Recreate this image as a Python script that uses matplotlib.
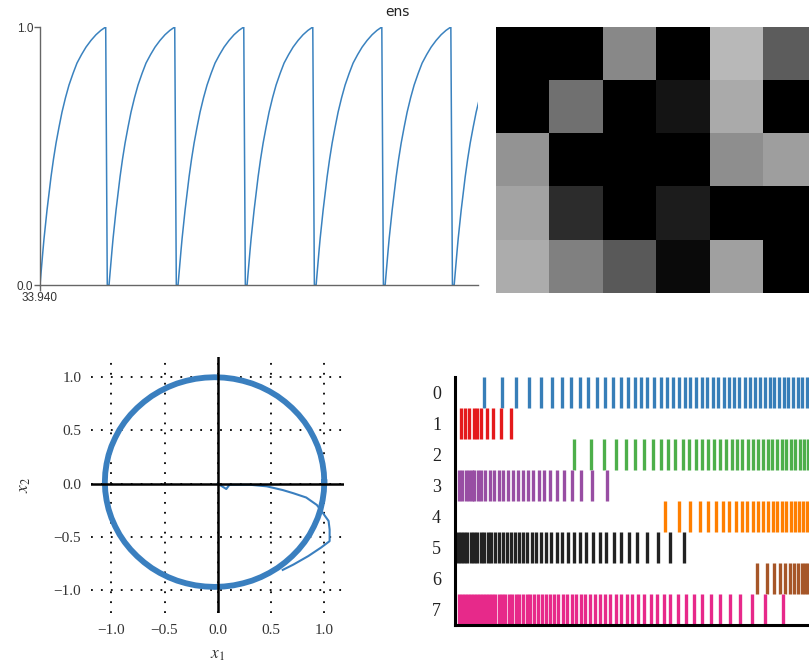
import numpy as np
import matplotlib
matplotlib.use("Agg")
import matplotlib.pyplot as plt
import matplotlib.patheffects as pe

plt.rcParams['mathtext.fontset'] = 'stix'

# --- DATA ---
# panel 1: membrane voltage of "ens", one cycle (s, value)
t_start = 33.940
t_window = 0.5
period = 0.0788
cycle_t = [0.0, 0.0011, 0.0023, 0.0034, 0.0046, 0.0063, 0.0080, 0.0103, 0.0126,
           0.0154, 0.0183, 0.0217, 0.0251, 0.0291, 0.0331, 0.0377, 0.0422,
           0.0474, 0.0525, 0.0582, 0.0639, 0.0695, 0.0750, 0.0768]
cycle_v = [0.0, 0.045, 0.09, 0.135, 0.18, 0.235, 0.29, 0.355, 0.42,
           0.488, 0.55, 0.612, 0.67, 0.726, 0.775, 0.82, 0.86,
           0.893, 0.922, 0.948, 0.97, 0.987, 1.0, 0.0]
n_cycles = 7

# panel 2: grey levels (0-255)
gray_levels = [
    [0, 0, 136, 0, 184, 92],
    [0, 112, 0, 20, 170, 0],
    [148, 0, 0, 0, 142, 158],
    [164, 44, 0, 28, 0, 0],
    [172, 128, 90, 10, 160, 0],
]

# panel 3: oscillator state, limit cycle and start transient
circle_x = [1.00, 0.996, 0.984, 0.965, 0.938, 0.903, 0.862, 0.814, 0.759, 0.698,
            0.632, 0.561, 0.485, 0.405, 0.322, 0.237, 0.149, 0.060, -0.03,
            -0.120, -0.209, -0.297, -0.382, -0.465, -0.545, -0.621, -0.692,
            -0.758, -0.819, -0.874, -0.922, -0.963, -0.998, -1.025, -1.044,
            -1.056, -1.06, -1.056, -1.044, -1.025, -0.998, -0.963, -0.922,
            -0.874, -0.819, -0.758, -0.692, -0.621, -0.545, -0.465, -0.382,
            -0.297, -0.209, -0.120, -0.03, 0.060, 0.149, 0.237, 0.322, 0.405,
            0.485, 0.561, 0.632, 0.698, 0.759, 0.814, 0.862, 0.903, 0.938,
            0.965, 0.984, 0.996, 1.00]
circle_y = [0.015, 0.101, 0.186, 0.270, 0.352, 0.431, 0.508, 0.580, 0.648, 0.711,
            0.769, 0.822, 0.868, 0.908, 0.941, 0.966, 0.985, 0.996, 1.00,
            0.996, 0.985, 0.966, 0.941, 0.908, 0.868, 0.822, 0.769,
            0.711, 0.648, 0.580, 0.508, 0.431, 0.352, 0.270, 0.186,
            0.101, 0.015, -0.071, -0.156, -0.240, -0.322, -0.401, -0.478,
            -0.550, -0.618, -0.681, -0.739, -0.792, -0.838, -0.878, -0.911,
            -0.936, -0.955, -0.966, -0.97, -0.966, -0.955, -0.936, -0.911, -0.878,
            -0.838, -0.792, -0.739, -0.681, -0.618, -0.550, -0.478, -0.401, -0.322,
            -0.240, -0.156, -0.071, 0.015]
trans_x = [0.0, 0.08, 0.11, 0.30, 0.46, 0.61, 0.71, 0.83, 0.93, 0.99, 1.04,
           1.05, 1.05, 0.97, 0.85, 0.71, 0.61]
trans_y = [0.0, -0.05, -0.01, -0.01, -0.025, -0.06, -0.09, -0.13, -0.20, -0.28,
           -0.35, -0.43, -0.54, -0.60, -0.68, -0.76, -0.81]
grid_ticks = [-1.0, -0.5, 0.0, 0.5, 1.0]

# panel 4: spike raster, spike times per neuron
spikes_0 = [29, 47, 61, 74, 86, 97, 107, 116, 125, 133, 142, 150, 158, 166, 173,
            180, 186, 192, 199, 206, 212, 218, 224, 230, 235, 241, 247, 252, 258,
            263, 269, 274, 279, 284, 290, 295, 300, 305, 310, 315, 319, 324, 329,
            333, 338, 343, 347, 352, 357]
spikes_1 = [6, 10, 14, 19, 22, 26, 32, 38, 46, 56]
spikes_2 = [119, 136, 149, 161, 171, 180, 189, 198, 206, 213, 220, 228, 234, 241,
            247, 253, 259, 265, 271, 277, 282, 287, 293, 298, 303, 308, 313, 317,
            322, 327, 331, 336, 340, 345, 349, 353, 357]
spikes_3 = [4, 7, 11, 14, 17, 19, 23, 26, 30, 35, 39, 44, 48, 53, 58, 63, 68, 73,
            78, 84, 89, 95, 102, 109, 117, 126, 137, 152]
spikes_4 = [210, 224, 235, 245, 253, 261, 268, 274, 281, 287, 292, 298, 303, 308,
            313, 318, 322, 327, 331, 336, 340, 344, 348, 352, 356]
spikes_5 = [3, 6, 9, 12, 16, 19, 22, 26, 29, 33, 36, 40, 44, 48, 52, 56, 60, 64,
            68, 72, 77, 81, 86, 91, 96, 102, 107, 113, 119, 125, 131, 138, 145,
            151, 159, 166, 174, 182, 192, 203, 215, 229]
spikes_6 = [302, 312, 319, 325, 330, 335, 339, 343, 347, 350, 353, 357]
spikes_7 = [4, 7, 10, 13, 16, 19, 22, 25, 28, 31, 34, 37, 40, 44, 47, 50, 54, 57,
            61, 64, 68, 72, 75, 79, 83, 87, 91, 95, 99, 103, 108, 112, 117, 121,
            126, 130, 135, 140, 145, 150, 155, 161, 166, 172, 177, 183, 189, 196,
            202, 209, 215, 223, 231, 239, 247, 256, 265, 275, 285, 297, 310, 328]
neuron_labels = ['0', '1', '2', '3', '4', '5', '6', '7']
spike_colors = ['#377eb8', '#e41a1c', '#4daf4a', '#984ea3',
                '#ff7f00', '#222222', '#a65628', '#e7298a']

W, H = 809, 666


def px_axes(x0, y0, x1, y1):
    # pixel box (top-left origin) -> figure fraction rect
    return [x0 / W, 1 - y1 / H, (x1 - x0) / W, (y1 - y0) / H]


fig = plt.figure(figsize=(W / 100, H / 100), dpi=100)

# --- panel 1: voltage trace ---
ax1 = fig.add_axes(px_axes(40, 27, 478, 285))
t_all, v_all = [], []
for k in range(n_cycles):
    t_all += [t_start + k * period + t for t in cycle_t]
    v_all += cycle_v
ax1.plot(t_all, v_all, color='#3a82bf', lw=1.1)
ax1.set_xlim(t_start, t_start + t_window)
ax1.set_ylim(0, 1)
ax1.set_xticks([t_start])
ax1.set_xticklabels(['33.940'])
ax1.set_yticks([0, 1])
ax1.set_yticklabels(['0.0', '1.0'])
for s in ['top', 'right']:
    ax1.spines[s].set_visible(False)
for s in ['left', 'bottom']:
    ax1.spines[s].set_color('#666666')
    ax1.spines[s].set_linewidth(1.0)
ax1.tick_params(length=4, width=1, color='#666666', labelsize=8.5,
                labelcolor='#333333', pad=1)
for lab in ax1.get_xticklabels() + ax1.get_yticklabels():
    lab.set_family('Liberation Sans')
fig.text(397 / W, 1 - 12 / H, 'ens', ha='center', va='center', fontsize=10,
         color='#222222')

# --- panel 2: grey image ---
ax2 = fig.add_axes(px_axes(496, 27, 817, 293))
ax2.imshow(np.array(gray_levels), cmap='gray', vmin=0, vmax=255,
           aspect='auto', interpolation='nearest')
ax2.axis('off')

# --- panel 3: phase plane ---
ax3 = fig.add_axes(px_axes(91, 357, 344, 613))
ax3.plot(circle_x, circle_y, color='#3a7fbf', lw=4.2, solid_joinstyle='round')
ax3.plot(trans_x, trans_y, color='#3a7fbf', lw=1.5)
ax3.axhline(0, color='k', lw=1.8, zorder=3)
ax3.axvline(0, color='k', lw=1.8, zorder=3)
ax3.set_xlim(-1.19, 1.185)
ax3.set_ylim(-1.215, 1.19)
ax3.set_xticks(grid_ticks)
ax3.set_yticks(grid_ticks)
ax3.grid(True, color='k', linestyle=(0, (1, 4.5)), linewidth=1.3)
ax3.set_axisbelow(True)
for s in ax3.spines.values():
    s.set_visible(False)
ax3.tick_params(axis='x', length=0, pad=8, labelsize=11, labelcolor='#333333')
ax3.tick_params(axis='y', length=0, pad=7, labelsize=11, labelcolor='#333333')
for lab in ax3.get_xticklabels() + ax3.get_yticklabels():
    lab.set_family('Liberation Serif')
fig.text(218 / W, 1 - 654 / H, '$x_1$', ha='center', va='center',
         fontsize=12.5, color='#333333')
fig.text(24 / W, 1 - 485 / H, '$x_2$', ha='center', va='center',
         fontsize=12.5, color='#333333', rotation=90)

# --- panel 4: spike raster ---
ax4 = fig.add_axes(px_axes(455, 377, 855, 625))
spikes = [spikes_0, spikes_1, spikes_2, spikes_3,
          spikes_4, spikes_5, spikes_6, spikes_7]
colls = ax4.eventplot(spikes, orientation='horizontal',
                      lineoffsets=list(range(8)), linelengths=1,
                      linewidths=2.4, colors=spike_colors)
for c in colls:
    c.set_path_effects([pe.Stroke(linewidth=3.4, foreground='white', alpha=0.7),
                        pe.Normal()])
ax4.set_xlim(0, 400)
ax4.set_ylim(7.5, -0.5)
ax4.set_yticks(range(8))
ax4.set_yticklabels(neuron_labels, family='Liberation Serif', fontsize=13)
ax4.set_xticks([])
for s in ['top', 'right']:
    ax4.spines[s].set_visible(False)
for s in ['left', 'bottom']:
    ax4.spines[s].set_linewidth(2.2)
    ax4.spines[s].set_color('k')
    ax4.spines[s].set_zorder(5)
ax4.tick_params(axis='y', length=0, pad=10, labelcolor='#222222')

fig.savefig('out.png', dpi=100)
